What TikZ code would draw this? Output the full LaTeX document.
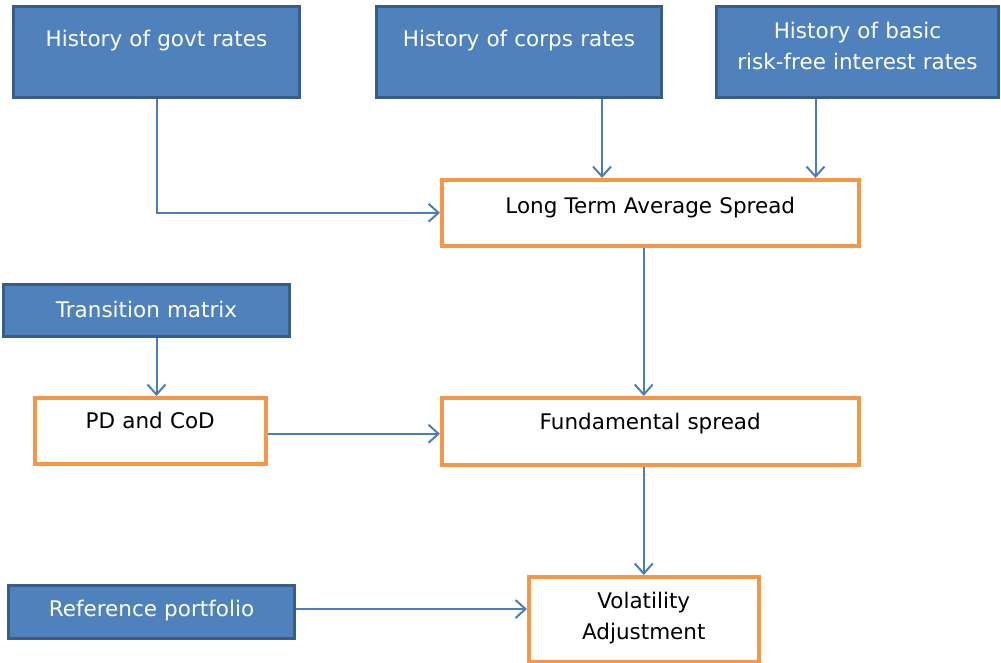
\documentclass[tikz,border=0pt]{standalone}
\usepackage{fontspec}
\setmainfont{DejaVu Sans}
\usetikzlibrary{positioning,calc,arrows.meta}
\definecolor{boxblue}{HTML}{4F81BD}
\definecolor{boxedge}{HTML}{385D8A}
\definecolor{boxorange}{HTML}{F79646}
\definecolor{linkblue}{HTML}{4A7EBB}

\begin{document}
\begin{tikzpicture}[x=1pt, y=-1pt,
    inbox/.style={draw=boxedge, line width=3pt, fill=boxblue, text=white,
        anchor=north west, inner sep=0pt, align=center, font=\fontsize{21.5}{31}\selectfont},
    calcbox/.style={draw=boxorange, line width=3.5pt, fill=white, text=black,
        anchor=north west, inner sep=0pt, align=center, font=\fontsize{21.5}{31}\selectfont},
    link/.style={draw=linkblue, line width=2pt, -{Straight Barb[length=10pt,width=18pt]}}]
    \useasboundingbox (0,0) rectangle (1001,662);

    % Input histories
    \node [inbox, text width=286pt, text height=40pt, text depth=51pt] (govt) at (12,5) {History of govt rates};
    \node [inbox, text width=285pt, text height=40pt, text depth=51pt] (corps) at (375,5) {History of corps rates};
    \node [inbox, text width=282pt, text height=32pt, text depth=59pt] (basic) at (715,5) {History of basic\\risk-free interest rates};

    % Spread calculation
    \node [calcbox, text width=417pt, text height=34pt, text depth=32pt] (ltas) at (440,178) {Long Term Average Spread};
    \node [inbox, text width=286pt, text height=33pt, text depth=19pt] (trans) at (2,283) {Transition matrix};
    \node [calcbox, text width=231pt, text height=31pt, text depth=35pt] (pdcod) at (33,396) {PD and CoD};
    \node [calcbox, text width=417pt, text height=32pt, text depth=35pt] (fund) at (440,396) {Fundamental spread};

    % Volatility adjustment
    \node [inbox, text width=286pt, text height=31pt, text depth=22pt] (refport) at (7,584) {Reference portfolio};
    \node [calcbox, text width=230pt, text height=32pt, text depth=53pt] (va) at (527,575) {Volatility\\Adjustment};

    % Links
    \draw [link] (govt.south) |- (ltas.west);
    \draw [link] ([xshift=83pt]corps.south) -- ([xshift=83pt]corps.south |- ltas.north);
    \draw [link] ([xshift=-42pt]basic.south) -- ([xshift=-42pt]basic.south |- ltas.north);
    \draw [link] (ltas.south -| va.north) -- (fund.north -| va.north);
    \draw [link] ([xshift=10pt]trans.south) -- ([xshift=10pt]trans.south |- pdcod.north);
    \draw [link] ([yshift=-3pt]pdcod.east) -- ([yshift=-3pt]pdcod.east -| fund.west);
    \draw [link] (fund.south -| va.north) -- (va.north);
    \draw [link] ([yshift=3pt]refport.east) -- ([yshift=3pt]refport.east -| va.west);
\end{tikzpicture}
\end{document}
